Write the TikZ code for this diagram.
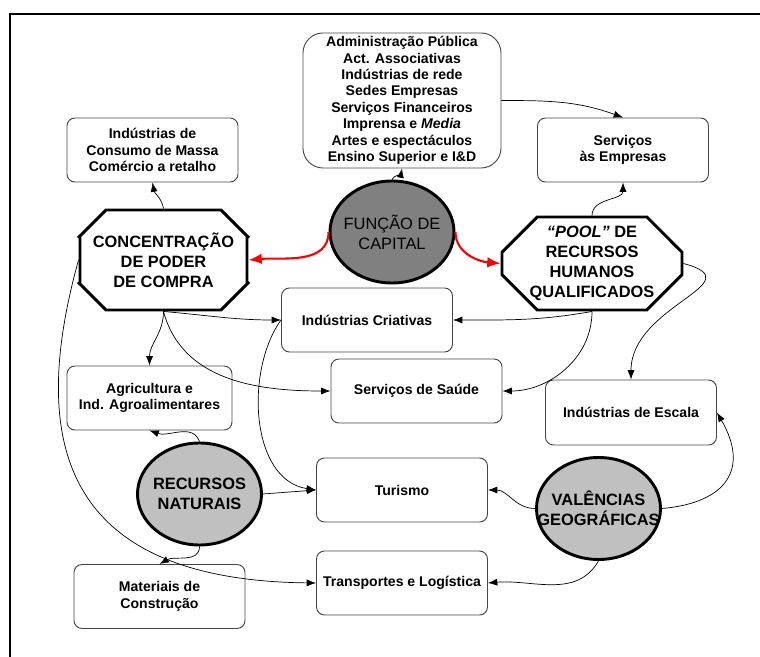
\documentclass[tikz,border=0pt]{standalone}
\usepackage{fontspec}
\setmainfont{Liberation Sans}
\usetikzlibrary{arrows.meta,shapes.geometric,shapes.misc}
\definecolor{capgray}{RGB}{128,128,128}
\definecolor{resgray}{RGB}{192,192,192}
\definecolor{boxline}{RGB}{70,70,70}

\begin{document}
\begin{tikzpicture}[x=0.03cm,y=-0.03cm,
  font=\bfseries\fontsize{12}{14}\selectfont,
  box/.style={draw=boxline,line width=0.8pt,rounded corners=0.24cm,align=center,
    minimum width=5.13cm,minimum height=1.92cm,inner sep=2pt},
  big/.style={font=\mdseries\fontsize{14}{17}\selectfont,align=center},
  bigb/.style={font=\bfseries\fontsize{14}{17}\selectfont,align=center},
  octo/.style={bigb,chamfered rectangle,draw,line width=2.5pt,fill=white,
    inner xsep=-30pt,inner ysep=-25pt},
  blob/.style={ellipse,draw,line width=2.5pt,inner xsep=-20pt,inner ysep=0pt,
    minimum width=3.72cm,minimum height=3.06cm},
  link/.style={-{Latex[length=2.8mm,width=2.1mm]},line width=0.6pt},
  capl/.style={-{Latex[length=4mm,width=3.2mm]},red,line width=1.8pt}]
  \useasboundingbox (0,0) rectangle (760,657);
  \draw[line width=1pt] (10,657) -- (10,14) -- (760,14);
  % boxes
  \node[box,minimum width=5.94cm,minimum height=4.05cm,rounded corners=0.6cm] (adm) at (402,100.5)
    {Administração Pública\\Act. Associativas\\Indústrias de rede\\Sedes Empresas\\
     Serviços Financeiros\\Imprensa e \textit{Media}\\Artes e espectáculos\\Ensino Superior e I\&D};
  \node[box] (cons) at (152.5,150) {Indústrias de\\Consumo de Massa\\Comércio a retalho};
  \node[box] (serv) at (623,150) {Serviços\\às Empresas};
  \node[box] (cria) at (367,320) {Indústrias Criativas};
  \node[box] (saude) at (416.5,391) {Serviços de Saúde};
  \node[box,minimum width=4.95cm] (agri) at (149.5,398) {Agricultura e\\Ind. Agroalimentares};
  \node[box,minimum height=1.95cm] (esc) at (631,412.5) {Indústrias de Escala};
  \node[box] (tur) at (402,490) {Turismo};
  \node[box] (trans) at (402,583) {Transportes e Logística};
  \node[box] (mat) at (159.5,596.5) {Materiais de\\Construção};
  % poles
  \node[octo,minimum width=5.01cm,minimum height=3cm,
    chamfered rectangle xsep=0.9cm,chamfered rectangle ysep=0.84cm] (conc) at (163.5,260)
    {CONCENTRAÇÃO\\DE PODER\\DE COMPRA};
  \node[octo,minimum width=5.4cm,minimum height=2.79cm,
    chamfered rectangle xsep=0.75cm,chamfered rectangle ysep=0.84cm] (pool) at (592,263.5)
    {\textit{“POOL”} DE\\RECURSOS\\HUMANOS\\QUALIFICADOS};
  \node[blob,big,fill=capgray] (func) at (392,232) {FUNÇÃO DE\\CAPITAL};
  \node[blob,bigb,fill=resgray] (rn) at (199.5,494) {RECURSOS\\NATURAIS};
  \node[blob,bigb,fill=resgray] (val) at (598.5,508.5) {VALÊNCIAS\\GEOGRÁFICAS};
  % links
  \draw[link] (func.north) to[out=60,in=-100] (adm.south);
  \draw[link] (adm.east) to[out=0,in=160] (serv.north);
  \draw[link] (conc.north) to[out=100,in=-80] (cons.south);
  \draw[link] (pool.north) to[out=90,in=-90] (serv.south);
  \draw[link] (pool.south) to[out=-170,in=0] (cria.east);
  \draw[link] (pool.south) to[out=-90,in=0] (saude.east);
  \draw[link] (pool.east) to[out=-15,in=90,looseness=1.5] (esc.north);
  \draw[link] (conc.south) to[out=-5,in=180] (cria.west);
  \draw[link] (conc.south) to[out=-90,in=90] (agri.north);
  \draw[link] (conc.south) to[out=-75,in=180] (saude.west);
  \draw[link] (conc.west) .. controls +(-50,180) and +(-256,-3) .. (trans.west);
  \draw[link] (cria.west) .. controls +(-36,50) and +(-66,-10) .. (tur.west);
  \draw[link] (rn.north) to[out=110,in=-20] (agri.south);
  \draw[link] (rn.east) -- (tur.west);
  \draw[link] (rn.south) to[out=-90,in=30] (mat.north);
  \draw[link] (val.west) to[out=180,in=0] (tur.east);
  \draw[link] (val.east) to[out=5,in=-60,looseness=1.5] (esc.east);
  \draw[link] (val.south) to[out=-120,in=5] (trans.east);
  \draw[capl] (func.west) to[out=-90,in=5] (conc.east);
  \draw[capl] (func.east) to[out=-90,in=175] (pool.west);
\end{tikzpicture}
\end{document}
